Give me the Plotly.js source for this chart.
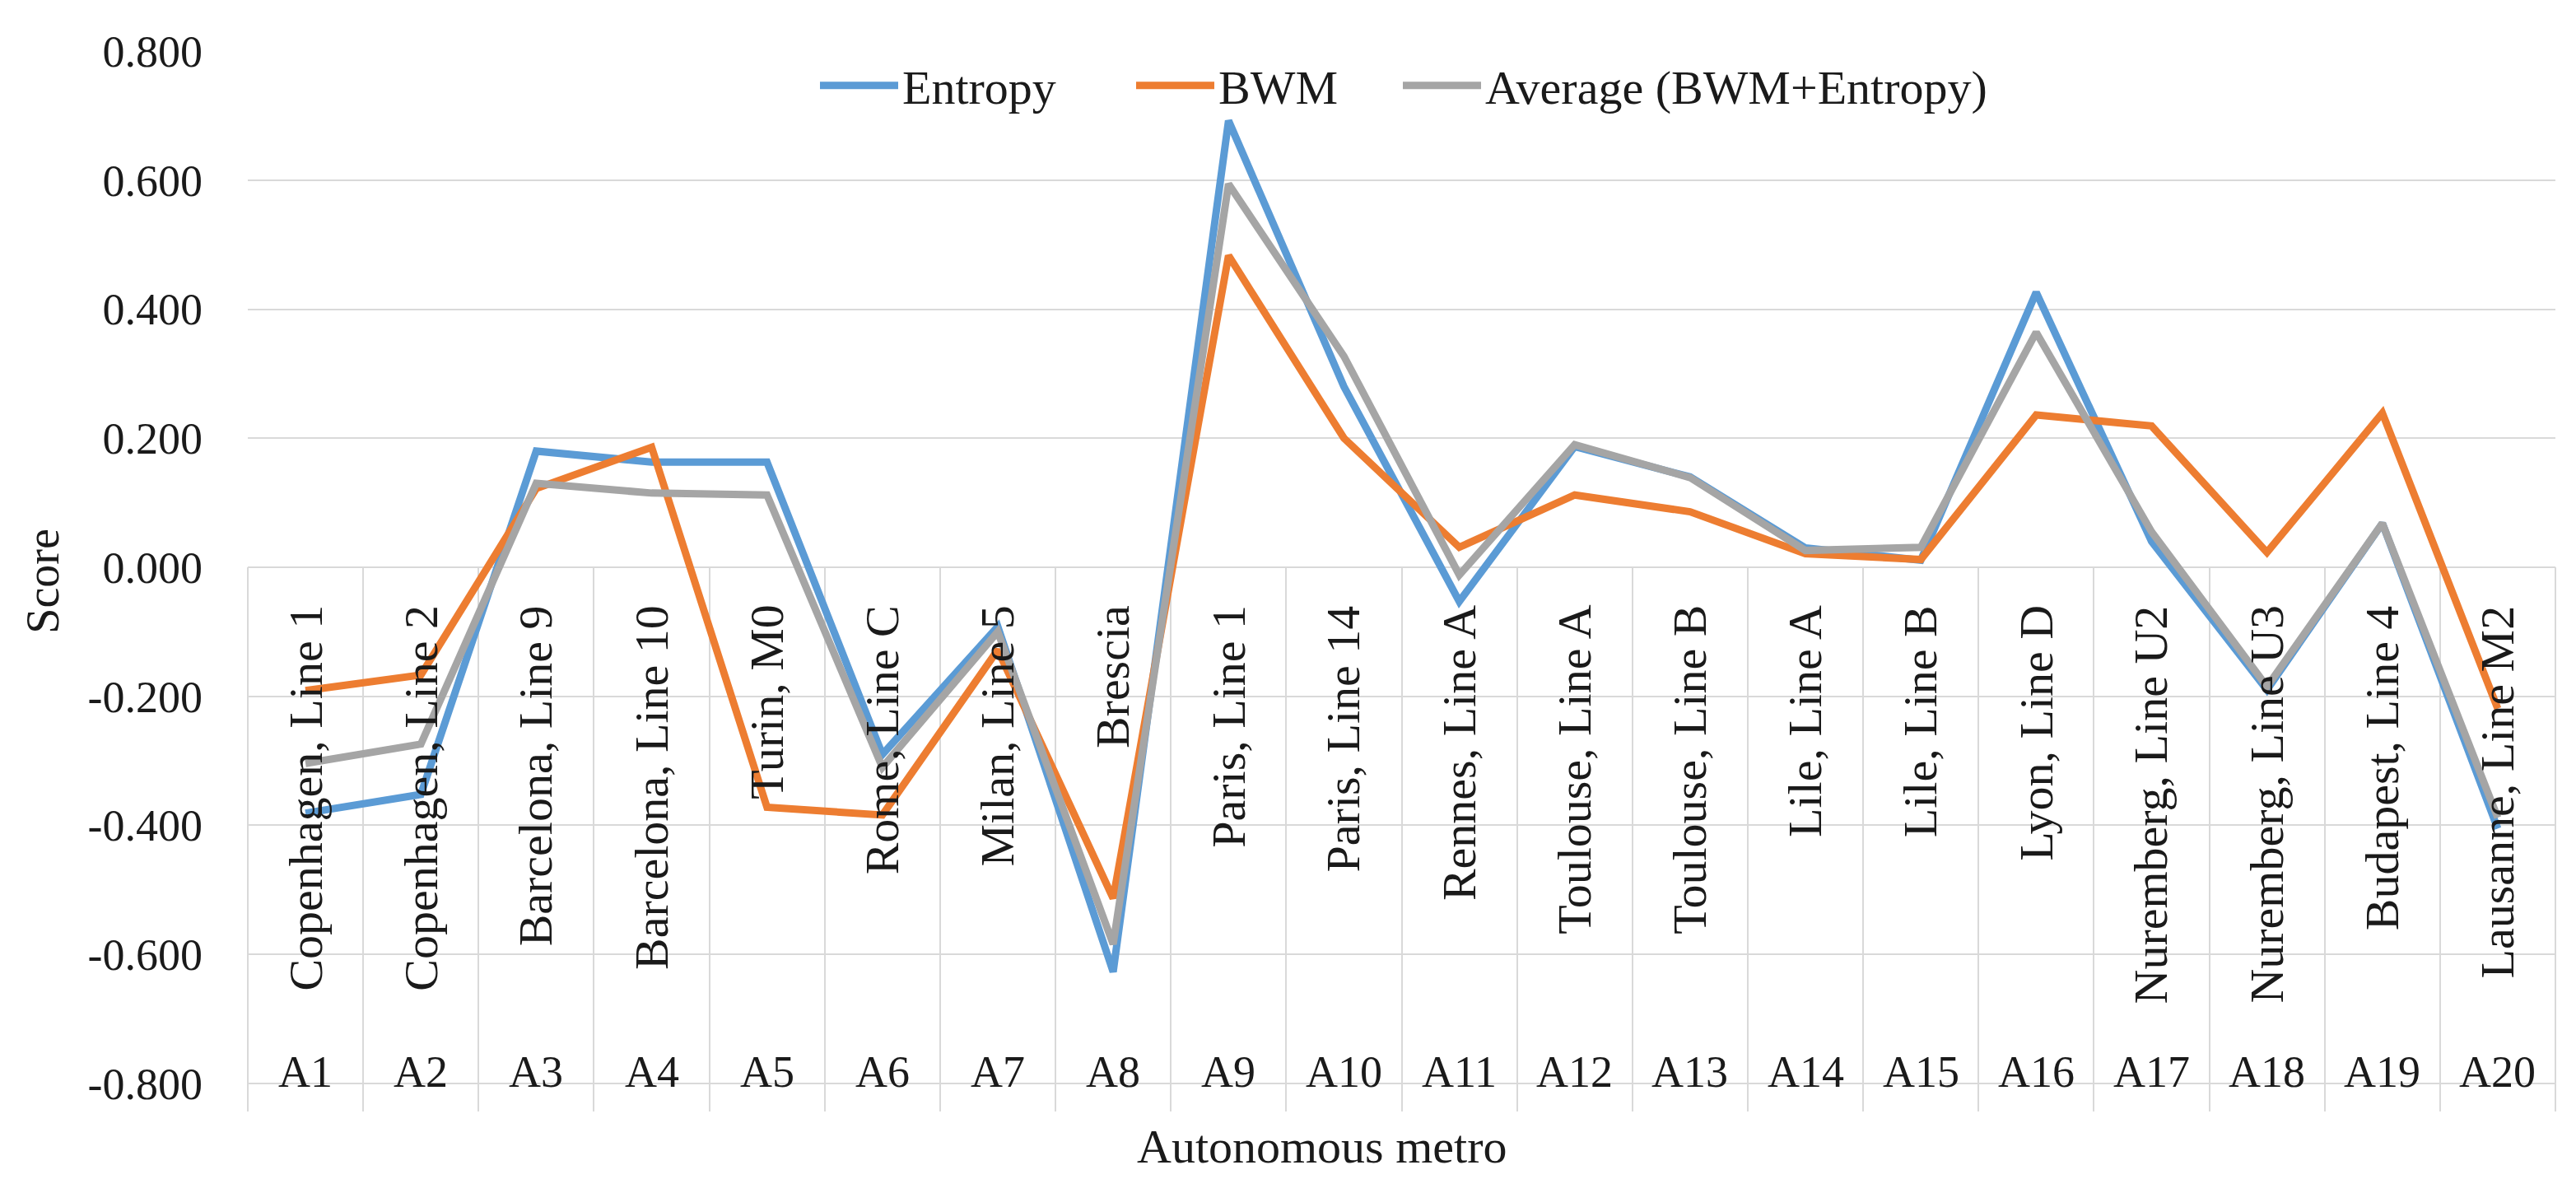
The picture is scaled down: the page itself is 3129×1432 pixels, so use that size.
<!DOCTYPE html>
<html>
<head>
<meta charset="utf-8">
<script src="https://cdn.plot.ly/plotly-3.0.1.min.js"></script>
<style>html,body{margin:0;padding:0;background:#fff;}#chart{width:3129px;height:1432px;}</style>
</head>
<body>
<div id="chart"></div>
<script>
// ---- data ----
const codes = ["A1","A2","A3","A4","A5","A6","A7","A8","A9","A10","A11","A12","A13","A14","A15","A16","A17","A18","A19","A20"];
const names = ["Copenhagen, Line 1","Copenhagen, Line 2","Barcelona, Line 9","Barcelona, Line 10","Turin, M0","Rome, Line C","Milan, Line 5","Brescia","Paris, Line 1","Paris, Line 14","Rennes, Line A","Toulouse, Line A","Toulouse, Line B","Lile, Line A","Lile, Line B","Lyon, Line D","Nuremberg, Line U2","Nuremberg, Line U3","Budapest, Line 4","Lausanne, Line M2"];
const entropy = [-0.381,-0.352,0.180,0.163,0.163,-0.290,-0.092,-0.627,0.692,0.280,-0.053,0.187,0.140,0.030,0.011,0.426,0.040,-0.190,0.068,-0.405];
const bwm     = [-0.191,-0.167,0.122,0.186,-0.372,-0.384,-0.128,-0.513,0.483,0.200,0.031,0.112,0.086,0.021,0.012,0.236,0.219,0.023,0.239,-0.219];
const average = [-0.304,-0.274,0.130,0.115,0.112,-0.310,-0.100,-0.584,0.594,0.327,-0.012,0.190,0.139,0.026,0.031,0.364,0.055,-0.185,0.068,-0.388];
const yTicks  = [-0.8,-0.6,-0.4,-0.2,0,0.2,0.4,0.6,0.8];
const seriesNames = ["Entropy","BWM","Average (BWM+Entropy)"];

// ---- layout constants ----
const W = 3129, H = 1432;
const M = {l:301, r:25, t:62, b:82};
const yRange = [-0.8434, 0.8];
const FONT = "Liberation Serif, Times New Roman, serif";
const TXT = "#1a1a1a";
const GRID = "#d9d9d9";
const COLORS = ["#5B9BD5","#ED7D31","#A5A5A5"];
const LEG_ITEM_W = 95;

const plotW = W - M.l - M.r, plotH = H - M.t - M.b;
const idx = codes.map((c,i)=>i);
const bounds = codes.map((c,i)=>i-0.5).concat([codes.length-0.5]);
const zeroTickLen = plotH * (0 - yRange[0]) / (yRange[1] - yRange[0]);

const values = [entropy, bwm, average];
const legendIds = ["legend","legend2","legend3"];
const traces = values.map((v,k)=>({
  type:"scatter", mode:"lines", name:seriesNames[k], x:idx, y:v,
  legend:legendIds[k],
  line:{color:COLORS[k], width:9}, hoverinfo:"x+y"
}));

const annotations = [];
names.forEach((n,i)=>annotations.push({
  x:i, y:0, xref:"x", yref:"y", text:n, textangle:-90, showarrow:false,
  xanchor:"center", yanchor:"top", yshift:-44,
  font:{family:FONT, size:58, color:TXT}
}));
codes.forEach((c,i)=>annotations.push({
  x:i, y:yTicks[0], xref:"x", yref:"y", text:c, showarrow:false,
  xanchor:"center", yanchor:"middle", yshift:14,
  font:{family:FONT, size:54, color:TXT}
}));
annotations.push({
  x:(1605-M.l)/plotW, y:-(1392-(H-M.b))/plotH, xref:"paper", yref:"paper",
  text:"Autonomous metro", showarrow:false, xanchor:"center", yanchor:"middle",
  font:{family:FONT, size:58, color:TXT}
});

// legend text start positions (px)
const legendTextX = [1101, 1485, 1809];
const legendCommon = (px) => ({
  orientation:"h", x:(px-15-LEG_ITEM_W-M.l)/plotW, xanchor:"left",
  y:1-(104-M.t)/plotH, yanchor:"middle", itemwidth:LEG_ITEM_W,
  bgcolor:"rgba(255,255,255,0)", font:{family:FONT, size:58, color:TXT}
});

const layout = {
  width:W, height:H, margin:M,
  paper_bgcolor:"#fff", plot_bgcolor:"#fff",
  font:{family:FONT, size:54, color:TXT},
  showlegend:true,
  legend:legendCommon(legendTextX[0]),
  legend2:legendCommon(legendTextX[1]),
  legend3:legendCommon(legendTextX[2]),
  xaxis:{
    type:"linear", range:[-0.5, codes.length-0.5], fixedrange:true,
    tickmode:"array", tickvals:idx, ticktext:codes, showticklabels:false,
    ticks:"", showgrid:false, zeroline:false, showline:false,
    layer:"below traces",
    minor:{tickmode:"array", tickvals:bounds, ticks:"inside", ticklen:zeroTickLen,
           tickwidth:2, tickcolor:GRID, showgrid:false}
  },
  yaxis:{
    range:yRange, fixedrange:true, tickmode:"array", tickvals:yTicks,
    ticktext:yTicks.map(v=>v.toFixed(3)),
    showgrid:true, gridcolor:GRID, gridwidth:2,
    zeroline:false, showline:false, ticks:"",
    ticklabelstandoff:54,
    tickfont:{family:FONT, size:54, color:TXT},
    title:{text:"Score", font:{family:FONT, size:56, color:TXT}, standoff:16}
  },
  annotations:annotations
};

Plotly.newPlot("chart", traces, layout, {staticPlot:true, displayModeBar:false});
</script>
</body>
</html>
